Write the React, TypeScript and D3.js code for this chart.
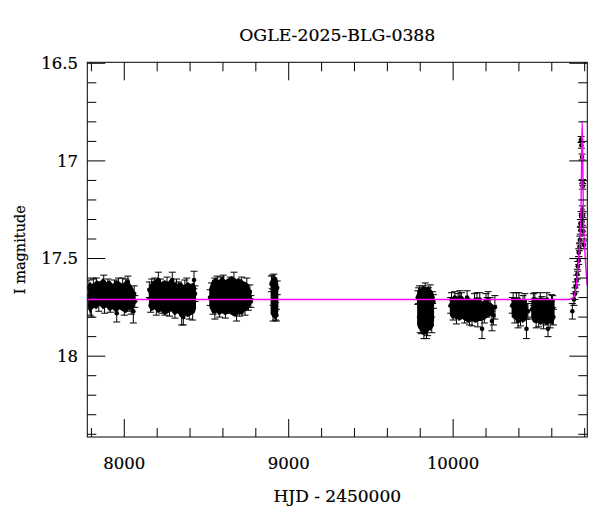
import React from 'react';
import * as d3 from 'd3';

// ---- data ----
// dense parts of each season: [hjd, upper mag, lower mag]
const season1Core = [[7780, 17.63, 17.76], [7795, 17.62, 17.78], [7810, 17.64, 17.75], [7830, 17.61, 17.76], [7850, 17.62, 17.74], [7870, 17.6, 17.76], [7890, 17.62, 17.75], [7910, 17.61, 17.77], [7930, 17.63, 17.76], [7950, 17.61, 17.78], [7970, 17.62, 17.76], [7990, 17.63, 17.77], [8010, 17.61, 17.78], [8030, 17.62, 17.76], [8045, 17.64, 17.77], [8060, 17.66, 17.75], [8068, 17.69, 17.73]];
const season2Core = [[8150, 17.65, 17.75], [8165, 17.62, 17.77], [8185, 17.61, 17.76], [8205, 17.6, 17.78], [8225, 17.62, 17.77], [8245, 17.61, 17.79], [8265, 17.62, 17.78], [8285, 17.6, 17.77], [8305, 17.62, 17.79], [8325, 17.63, 17.78], [8345, 17.62, 17.8], [8365, 17.64, 17.79], [8385, 17.62, 17.8], [8405, 17.63, 17.79], [8425, 17.62, 17.78], [8436, 17.65, 17.76]];
const season3Core = [[8518, 17.65, 17.75], [8535, 17.61, 17.78], [8555, 17.6, 17.77], [8575, 17.61, 17.79], [8595, 17.59, 17.78], [8615, 17.61, 17.79], [8635, 17.6, 17.78], [8655, 17.59, 17.79], [8675, 17.61, 17.8], [8695, 17.6, 17.78], [8715, 17.61, 17.79], [8735, 17.62, 17.77], [8755, 17.63, 17.76], [8768, 17.66, 17.74], [8775, 17.69, 17.72]];
const season4Core = [[8890, 17.64, 17.78], [8900, 17.6, 17.8], [8915, 17.59, 17.81], [8930, 17.6, 17.8], [8937, 17.63, 17.77]];
const season5Core = [[9781, 17.69, 17.84], [9790, 17.66, 17.86], [9805, 17.65, 17.87], [9820, 17.64, 17.875], [9835, 17.65, 17.87], [9850, 17.64, 17.865], [9865, 17.66, 17.87], [9878, 17.67, 17.85], [9884, 17.7, 17.82]];
const season6Core = [[9980, 17.72, 17.79], [9995, 17.7, 17.81], [10015, 17.69, 17.8], [10035, 17.7, 17.82], [10055, 17.69, 17.81], [10075, 17.71, 17.82], [10095, 17.7, 17.83], [10115, 17.71, 17.82], [10135, 17.7, 17.83], [10155, 17.71, 17.82], [10175, 17.72, 17.82], [10195, 17.71, 17.81], [10215, 17.72, 17.8], [10235, 17.73, 17.79], [10248, 17.74, 17.78]];
const season7aCore = [[10356, 17.72, 17.8], [10370, 17.71, 17.81], [10390, 17.7, 17.82], [10405, 17.71, 17.81], [10420, 17.71, 17.83], [10440, 17.72, 17.82], [10454, 17.73, 17.8]];
const season7bCore = [[10476, 17.72, 17.81], [10490, 17.71, 17.83], [10510, 17.7, 17.82], [10530, 17.71, 17.84], [10550, 17.7, 17.83], [10570, 17.71, 17.84], [10590, 17.71, 17.83], [10605, 17.72, 17.84], [10617, 17.73, 17.81]];

// single measurements: [hjd, mag, error]
const season1Points = [[7785, 17.65, 0.04], [7792, 17.74, 0.05], [7800, 17.75, 0.05], [7812, 17.64, 0.035], [7830, 17.63, 0.03], [7845, 17.73, 0.04], [7860, 17.66, 0.04], [7875, 17.62, 0.035], [7880, 17.74, 0.04], [7900, 17.64, 0.035], [7915, 17.73, 0.045], [7940, 17.65, 0.04], [7954, 17.78, 0.045], [7965, 17.63, 0.03], [7990, 17.64, 0.04], [8000, 17.75, 0.04], [8010, 17.64, 0.035], [8022, 17.62, 0.03], [8030, 17.73, 0.04], [8042, 17.75, 0.035], [8055, 17.77, 0.06], [8060, 17.68, 0.04], [8064, 17.72, 0.03]];
const season2Points = [[8152, 17.66, 0.04], [8160, 17.74, 0.035], [8167, 17.64, 0.035], [8185, 17.63, 0.03], [8195, 17.75, 0.04], [8207, 17.61, 0.04], [8220, 17.64, 0.035], [8230, 17.74, 0.04], [8247, 17.75, 0.04], [8260, 17.63, 0.035], [8275, 17.76, 0.035], [8292, 17.61, 0.04], [8308, 17.76, 0.045], [8318, 17.64, 0.035], [8330, 17.66, 0.04], [8349, 17.79, 0.05], [8359, 17.8, 0.04], [8368, 17.65, 0.04], [8380, 17.64, 0.04], [8395, 17.77, 0.04], [8416, 17.77, 0.045], [8424, 17.61, 0.045], [8430, 17.68, 0.04]];
const season3Points = [[8522, 17.7, 0.04], [8530, 17.66, 0.035], [8540, 17.75, 0.035], [8551, 17.64, 0.04], [8551, 17.77, 0.04], [8565, 17.62, 0.03], [8580, 17.76, 0.04], [8590, 17.63, 0.035], [8602, 17.62, 0.035], [8615, 17.77, 0.035], [8630, 17.74, 0.04], [8645, 17.63, 0.035], [8667, 17.61, 0.04], [8683, 17.78, 0.04], [8695, 17.64, 0.03], [8700, 17.76, 0.035], [8714, 17.63, 0.035], [8725, 17.66, 0.035], [8734, 17.75, 0.04], [8745, 17.64, 0.04], [8755, 17.73, 0.035], [8764, 17.67, 0.035], [8770, 17.72, 0.03]];
const season4Points = [[8895, 17.63, 0.04], [8900, 17.62, 0.035], [8905, 17.78, 0.04], [8910, 17.62, 0.04], [8920, 17.77, 0.045], [8925, 17.79, 0.03], [8930, 17.65, 0.035]];
const season5Points = [[9785, 17.7, 0.035], [9790, 17.69, 0.04], [9795, 17.67, 0.03], [9800, 17.84, 0.04], [9808, 17.85, 0.035], [9818, 17.68, 0.04], [9822, 17.88, 0.03], [9830, 17.66, 0.035], [9838, 17.87, 0.04], [9845, 17.86, 0.035], [9850, 17.69, 0.04], [9860, 17.67, 0.035], [9870, 17.84, 0.04], [9875, 17.7, 0.03], [9880, 17.72, 0.035]];
const season6Points = [[9985, 17.74, 0.04], [9990, 17.71, 0.035], [10000, 17.78, 0.035], [10010, 17.7, 0.03], [10020, 17.8, 0.035], [10030, 17.72, 0.04], [10041, 17.7, 0.035], [10050, 17.71, 0.035], [10070, 17.79, 0.04], [10085, 17.7, 0.035], [10100, 17.8, 0.04], [10115, 17.81, 0.035], [10130, 17.72, 0.04], [10145, 17.71, 0.035], [10150, 17.81, 0.04], [10162, 17.71, 0.035], [10176, 17.86, 0.05], [10190, 17.78, 0.05], [10200, 17.72, 0.04], [10207, 17.75, 0.05], [10213, 17.71, 0.04], [10225, 17.74, 0.04], [10236, 17.82, 0.05], [10245, 17.79, 0.05], [10254, 17.75, 0.06]];
const season7Points = [[10360, 17.74, 0.04], [10365, 17.71, 0.035], [10375, 17.79, 0.04], [10385, 17.71, 0.035], [10395, 17.82, 0.035], [10400, 17.71, 0.035], [10410, 17.8, 0.045], [10425, 17.72, 0.03], [10436, 17.72, 0.04], [10446, 17.86, 0.05], [10455, 17.77, 0.04], [10480, 17.76, 0.04], [10488, 17.71, 0.03], [10497, 17.71, 0.035], [10505, 17.82, 0.035], [10520, 17.81, 0.04], [10530, 17.71, 0.035], [10540, 17.74, 0.045], [10550, 17.82, 0.04], [10560, 17.8, 0.04], [10570, 17.71, 0.035], [10577, 17.86, 0.04], [10590, 17.82, 0.035], [10598, 17.72, 0.035], [10605, 17.72, 0.03], [10610, 17.8, 0.04]];
const eventPoints = [[10725, 17.77, 0.04], [10735, 17.71, 0.03], [10741, 17.68, 0.03], [10745, 17.645, 0.025], [10751, 17.61, 0.025], [10755, 17.58, 0.025], [10758, 17.54, 0.025], [10764, 17.51, 0.02], [10764, 17.47, 0.02], [10768, 17.44, 0.02], [10770, 17.405, 0.02], [10774, 17.355, 0.02], [10774, 17.32, 0.02], [10778, 17.28, 0.02], [10778, 16.89, 0.015], [10780, 16.92, 0.015], [10784, 16.98, 0.015], [10787, 17.11, 0.015], [10788, 17.13, 0.015], [10786, 17.25, 0.02], [10790, 17.28, 0.02], [10787, 17.31, 0.02], [10792, 17.36, 0.02], [10796, 17.43, 0.02]];

// microlensing model curve
const modelHjd = [7775, 10700, 10730, 10748, 10764, 10778, 10782, 10785, 10788, 10792, 10803, 10816];
const modelMag = [17.71, 17.71, 17.7, 17.645, 17.49, 17.25, 16.95, 16.8, 16.95, 17.25, 17.49, 17.64];

const xMajorTicks = [8000, 9000, 10000];
const yMajorTicks = [16.5, 17, 17.5, 18];

const cores = [season1Core, season2Core, season3Core, season4Core, season5Core, season6Core, season7aCore, season7bCore];
const points = [...season1Points, ...season2Points, ...season3Points, ...season4Points, ...season5Points, ...season6Points, ...season7Points, ...eventPoints];

const W = 600, H = 512;
const L = 87.3, R = 587.3, T = 62.3, B = 437;
const font = '"DejaVu Serif", serif';

export default function App() {
  const x = d3.scaleLinear().domain([7775, 10816]).range([L, R]);
  const y = d3.scaleLinear().domain([16.495, 18.414]).range([T, B]);

  const area = d3.area<number[]>()
    .x(d => x(d[0]))
    .y0(d => y(d[1]))
    .y1(d => y(d[2]));

  const model = d3.line<number>()
    .x((d, i) => x(modelHjd[i]))
    .y(d => y(d))
    .curve(d3.curveMonotoneX);

  const xMinor = d3.range(7800, 10816, 200).filter(v => !xMajorTicks.includes(v));
  const yMinor = d3.range(16.6, 18.41, 0.1).map(v => +v.toFixed(1)).filter(v => !yMajorTicks.includes(v));

  const cap = 3.5;

  return (
    <svg width={W} height={H} style={{ display: 'block', position: 'absolute', left: 0, top: 0 }}>
      <rect width={W} height={H} fill="white" />
      <defs>
        <clipPath id="plot"><rect x={L} y={T} width={R - L} height={B - T} /></clipPath>
      </defs>

      <g clipPath="url(#plot)">
        {cores.map((c, i) => <path key={i} d={area(c) || ''} fill="black" />)}
        <g stroke="black" strokeWidth={1}>
          {points.map((p, i) => {
            const px = x(p[0]);
            const y1 = y(p[1] - p[2]), y2 = y(p[1] + p[2]);
            return (
              <g key={i}>
                <line x1={px} x2={px} y1={y1} y2={y2} />
                <line x1={px - cap} x2={px + cap} y1={y1} y2={y1} />
                <line x1={px - cap} x2={px + cap} y1={y2} y2={y2} />
              </g>
            );
          })}
        </g>
        {points.map((p, i) => <circle key={i} cx={x(p[0])} cy={y(p[1])} r={2.3} fill="black" />)}
        <path d={model(modelMag) || ''} fill="none" stroke="#ff00ff" strokeWidth={1.4} />
      </g>

      <g stroke="black" strokeWidth={1}>
        {xMajorTicks.map(v => (
          <g key={v}>
            <line x1={x(v)} x2={x(v)} y1={B} y2={B - 18} />
            <line x1={x(v)} x2={x(v)} y1={T} y2={T + 18} />
          </g>
        ))}
        {xMinor.map(v => (
          <g key={v}>
            <line x1={x(v)} x2={x(v)} y1={B} y2={B - 9} />
            <line x1={x(v)} x2={x(v)} y1={T} y2={T + 9} />
          </g>
        ))}
        {yMajorTicks.map(v => (
          <g key={v}>
            <line x1={L} x2={L + 18} y1={y(v)} y2={y(v)} />
            <line x1={R} x2={R - 18} y1={y(v)} y2={y(v)} />
          </g>
        ))}
        {yMinor.map(v => (
          <g key={v}>
            <line x1={L} x2={L + 9} y1={y(v)} y2={y(v)} />
            <line x1={R} x2={R - 9} y1={y(v)} y2={y(v)} />
          </g>
        ))}
        <rect x={L} y={T} width={R - L} height={B - T} fill="none" />
      </g>

      <g fontFamily={font} fontSize={16.5} fill="black" stroke="black" strokeWidth={0.2}>
        {xMajorTicks.map(v => (
          <text key={v} x={x(v)} y={469} textAnchor="middle">{v}</text>
        ))}
        {yMajorTicks.map(v => (
          <text key={v} x={78} y={y(v)} dy="0.36em" textAnchor="end">{v}</text>
        ))}
        <text x={(L + R) / 2} y={502} textAnchor="middle" fontSize={17}>HJD - 2450000</text>
        <text transform={`translate(25,${(T + B) / 2}) rotate(-90)`} textAnchor="middle" fontSize={14.5}>I magnitude</text>
        <text x={(L + R) / 2} y={41} textAnchor="middle" fontSize={17.3}>OGLE-2025-BLG-0388</text>
      </g>
    </svg>
  );
}
